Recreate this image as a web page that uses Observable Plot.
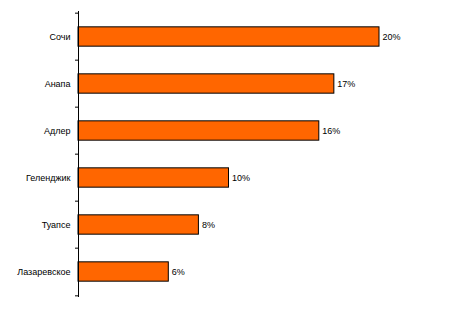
<!DOCTYPE html>
<html>
<head>
<meta charset="utf-8">
<script src="https://cdn.jsdelivr.net/npm/d3@7"></script>
<script src="https://cdn.jsdelivr.net/npm/@observablehq/plot@0.6"></script>
<style>
  html, body { margin: 0; padding: 0; background: #fff; }
</style>
</head>
<body>
<div id="chart"></div>
<script>
const categories = ["Сочи", "Анапа", "Адлер", "Геленджик", "Туапсе", "Лазаревское"];
const values = [20, 17, 16, 10, 8, 6];
const valueLabels = ["20%", "17%", "16%", "10%", "8%", "6%"];

const data = categories.map((c, i) => ({category: c, value: values[i], label: valueLabels[i]}));

const H = 309, mTop = 11, mBottom = 12;
const step = (H - mTop - mBottom) / categories.length;
const barH = 20;
const inset = (step - barH) / 2;
const font = "Liberation Sans, Arial, sans-serif";
const tickLen = 3 * 20 / (466 - 78 - 87); // 3px in data units

const chart = Plot.plot({
  width: 466,
  height: H,
  marginLeft: 78,
  marginRight: 87,
  marginTop: mTop,
  marginBottom: mBottom,
  style: {fontFamily: font, fontSize: "9px", background: "#fff", color: "#000"},
  x: {domain: [0, 20], axis: null},
  y: {domain: categories, padding: 0, axis: null},
  marks: [
    Plot.barX(data, {
      y: "category", x: "value",
      fill: "#FF6600", stroke: "#000", strokeWidth: 1,
      insetTop: inset, insetBottom: inset
    }),
    Plot.text(data, {
      y: "category", x: "value", text: "label",
      textAnchor: "start", dx: 3, fill: "#000", fontSize: 9
    }),
    Plot.text(data, {
      y: "category", text: "category", frameAnchor: "left",
      textAnchor: "end", dx: -8, fill: "#000", fontSize: 9
    }),
    Plot.ruleX([0], {stroke: "#000", strokeWidth: 1}),
    Plot.ruleY(categories, {y: d => d, x1: -tickLen, x2: 0, dy: -step / 2, stroke: "#000"}),
    Plot.ruleY(categories.slice(-1), {y: d => d, x1: -tickLen, x2: 0, dy: step / 2, stroke: "#000"})
  ]
});

document.getElementById("chart").appendChild(chart);
</script>
</body>
</html>
